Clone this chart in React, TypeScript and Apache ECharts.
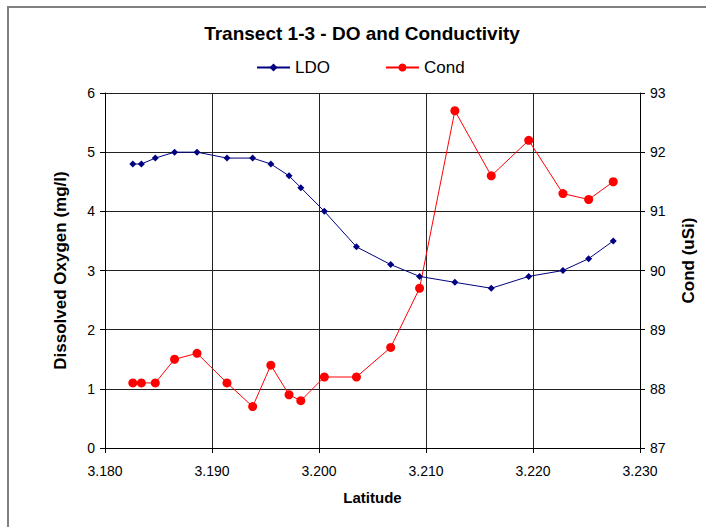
import React, { useEffect, useRef } from "react";
import * as echarts from "echarts";

const latitude = [3.1826, 3.1834, 3.1847, 3.1865, 3.1886, 3.1914, 3.1938, 3.1955, 3.1972, 3.1983, 3.2005, 3.2035, 3.2067, 3.2094, 3.2127, 3.2161, 3.2196, 3.2228, 3.2252, 3.2275];
const ldo = [4.8, 4.8, 4.9, 5.0, 5.0, 4.9, 4.9, 4.8, 4.6, 4.4, 4.0, 3.4, 3.1, 2.9, 2.8, 2.7, 2.9, 3.0, 3.2, 3.5];
const cond = [88.1, 88.1, 88.1, 88.5, 88.6, 88.1, 87.7, 88.4, 87.9, 87.8, 88.2, 88.2, 88.7, 89.7, 92.7, 91.6, 92.2, 91.3, 91.2, 91.5];

const FONT = "'Liberation Sans', Arial, sans-serif";

export default function App() {
  const ref = useRef<HTMLDivElement>(null);
  useEffect(() => {
    if (!ref.current) return;
    const chart = echarts.init(ref.current, null, { renderer: "svg" });
    const axisLabel = { color: "#000", fontSize: 14, fontFamily: FONT };
    const nameStyle = { color: "#000", fontSize: 17, fontWeight: "bold" as const, fontFamily: FONT };
    chart.setOption({
      animation: false,
      backgroundColor: "#fff",
      textStyle: { fontFamily: FONT },
      title: {
        text: "Transect 1-3 - DO and Conductivity",
        left: 357,
        textAlign: "center",
        top: 19,
        textStyle: { fontSize: 19, fontWeight: "bold", color: "#000", fontFamily: FONT },
      },
      legend: {
        top: 54,
        left: 251,
        itemGap: 55,
        itemWidth: 33,
        itemHeight: 10,
        textStyle: { fontSize: 17, color: "#000", fontFamily: FONT },
        data: ["LDO", "Cond"],
      },
      grid: { left: 105, right: 66, top: 93, bottom: 79 },
      xAxis: {
        type: "value",
        min: 3.18,
        max: 3.23,
        interval: 0.01,
        name: "Latitude",
        nameLocation: "middle",
        nameGap: 42,
        nameTextStyle: { ...nameStyle, fontSize: 15 },
        axisLine: { lineStyle: { color: "#000", width: 1 } },
        axisTick: { show: true, length: 5, lineStyle: { color: "#000" } },
        axisLabel: { ...axisLabel, margin: 16, formatter: (v: number) => v.toFixed(3) },
        splitLine: { show: true, lineStyle: { color: "#222", width: 1 } },
      },
      yAxis: [
        {
          type: "value",
          min: 0,
          max: 6,
          interval: 1,
          position: "left",
          name: "Dissolved Oxygen (mg/l)",
          nameLocation: "middle",
          nameRotate: 90,
          nameGap: 36,
          nameTextStyle: nameStyle,
          axisLine: { show: true, lineStyle: { color: "#000", width: 1 } },
          axisTick: { show: true, length: 5, lineStyle: { color: "#000" } },
          axisLabel: { ...axisLabel, margin: 10 },
          splitLine: { show: true, lineStyle: { color: "#222", width: 1 } },
        },
        {
          type: "value",
          min: 87,
          max: 93,
          interval: 1,
          position: "right",
          name: "Cond (uSi)",
          nameLocation: "middle",
          nameRotate: 90,
          nameGap: 40,
          nameTextStyle: { ...nameStyle, padding: [0, 0, 0, 20] },
          axisLine: { show: true, lineStyle: { color: "#000", width: 1 } },
          axisTick: { show: true, length: 5, lineStyle: { color: "#000" } },
          axisLabel: { ...axisLabel, margin: 10 },
          splitLine: { show: false },
        },
      ],
      graphic: [
        {
          type: "rect",
          shape: { x: 8, y: 7, width: 720, height: 540 },
          style: { fill: "none", stroke: "#808080", lineWidth: 2 },
          silent: true,
        },
      ],
      series: [
        {
          name: "LDO",
          type: "line",
          yAxisIndex: 0,
          data: latitude.map((x, i) => [x, ldo[i]]),
          symbol: "diamond",
          symbolSize: 7,
          itemStyle: { color: "#000080" },
          lineStyle: { color: "#000080", width: 1 },
        },
        {
          name: "Cond",
          type: "line",
          yAxisIndex: 1,
          data: latitude.map((x, i) => [x, cond[i]]),
          symbol: "circle",
          symbolSize: 9,
          itemStyle: { color: "#ff0000" },
          lineStyle: { color: "#ff0000", width: 1 },
        },
      ],
    });
    return () => chart.dispose();
  }, []);
  return (
    <div
      ref={ref}
      style={{ position: "fixed", left: 0, top: 0, width: 706, height: 527, background: "#fff" }}
    />
  );
}
